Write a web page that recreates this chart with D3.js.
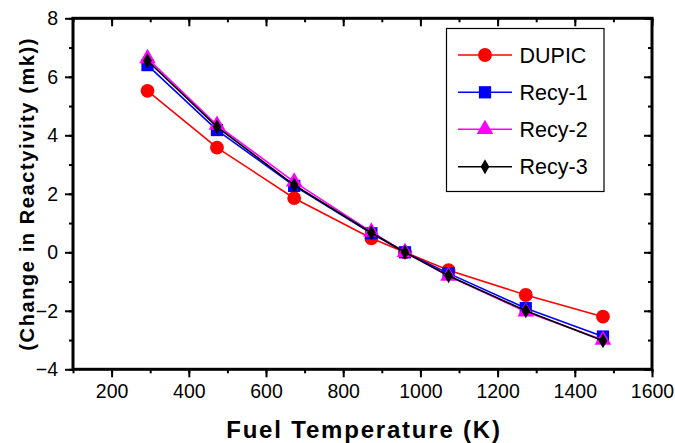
<!DOCTYPE html>
<html><head><meta charset="utf-8">
<script src="https://cdn.jsdelivr.net/npm/d3@7"></script>
<style>body{margin:0;background:#fff}svg{display:block}</style>
</head><body>
<svg id="c" width="675" height="443"></svg>
<script>
const temps = [293, 473, 673, 873, 960, 1073, 1273, 1473];
const dupic = [5.52, 3.58, 1.85, 0.48, 0.0, -0.61, -1.46, -2.20];
const recy1 = [6.40, 4.18, 2.27, 0.65, 0.0, -0.72, -1.91, -2.88];
const recy2 = [6.63, 4.35, 2.41, 0.70, 0.0, -0.81, -2.03, -3.00];
const recy3 = [6.55, 4.29, 2.30, 0.67, 0.0, -0.80, -2.00, -3.02];
const seriesNames = ["DUPIC", "Recy-1", "Recy-2", "Recy-3"];
const xTicks = [200, 400, 600, 800, 1000, 1200, 1400, 1600];
const yTicks = [-4, -2, 0, 2, 4, 6, 8];
const xTitle = "Fuel Temperature (K)";
const yTitle = "(Change in Reactyivity (mk))";

const series = [
  {name: seriesNames[0], vals: dupic, color: "#ff0000", sym: d3.symbolCircle, size: 150},
  {name: seriesNames[1], vals: recy1, color: "#0000ff", sym: d3.symbolSquare, size: 150},
  {name: seriesNames[2], vals: recy2, color: "#ff00ff", sym: d3.symbolTriangle, size: 120},
  {name: seriesNames[3], vals: recy3, color: "#000000", sym: d3.symbolDiamond, size: 65}
];

const L = 73, R = 652, T = 18.3, B = 369.3;
const x = d3.scaleLinear().domain([100, 1600]).range([L, R]);
const y = d3.scaleLinear().domain([-4, 8]).range([B, T]);
const svg = d3.select("#c");
const font = "Arial, 'Liberation Sans', sans-serif";

const xMinor = d3.range(100, 1601, 100);
const yMinor = d3.range(-4, 8.01, 1);

function styleAxis(g) {
  g.select(".domain").remove();
  g.selectAll(".tick line").attr("stroke", "#000").attr("stroke-width", 2);
  g.selectAll("text").attr("font-family", font).attr("font-size", 19.5).attr("fill", "#000");
}
svg.append("g").attr("transform", `translate(0,${B})`)
  .call(d3.axisBottom(x).tickValues(xMinor).tickSize(4).tickFormat(""))
  .call(styleAxis);
svg.append("g").attr("transform", `translate(0,${B})`)
  .call(d3.axisBottom(x).tickValues(xTicks).tickSize(8).tickPadding(7).tickFormat(d3.format("d")))
  .call(styleAxis);
svg.append("g").attr("transform", `translate(0,${T})`)
  .call(d3.axisBottom(x).tickValues(xMinor).tickSize(4).tickFormat(""))
  .call(styleAxis);
svg.append("g").attr("transform", `translate(0,${T})`)
  .call(d3.axisBottom(x).tickValues(xTicks).tickSize(8).tickFormat(""))
  .call(styleAxis);
svg.append("g").attr("transform", `translate(${L},0)`)
  .call(d3.axisLeft(y).tickValues(yMinor).tickSize(4).tickFormat(""))
  .call(styleAxis);
svg.append("g").attr("transform", `translate(${L},0)`)
  .call(d3.axisLeft(y).tickValues(yTicks).tickSize(8).tickPadding(7).tickFormat(d3.format("d")))
  .call(styleAxis);
svg.append("g").attr("transform", `translate(${R},0)`)
  .call(d3.axisLeft(y).tickValues(yMinor).tickSize(4).tickFormat(""))
  .call(styleAxis);
svg.append("g").attr("transform", `translate(${R},0)`)
  .call(d3.axisLeft(y).tickValues(yTicks).tickSize(8).tickFormat(""))
  .call(styleAxis);

svg.append("rect").attr("x", L).attr("y", T).attr("width", R - L).attr("height", B - T)
  .attr("fill", "none").attr("stroke", "#000").attr("stroke-width", 3);

const line = d3.line().x((d, i) => x(temps[i])).y(d => y(d));
series.forEach(s => {
  const g = svg.append("g");
  g.append("path").datum(s.vals).attr("d", line).attr("fill", "none")
    .attr("stroke", s.color).attr("stroke-width", 1.6);
  g.selectAll("path.m").data(s.vals).join("path").attr("class", "m")
    .attr("transform", (d, i) => `translate(${x(temps[i])},${y(d)})`)
    .attr("d", d3.symbol().type(s.sym).size(s.size)).attr("fill", s.color);
});

const lg = svg.append("g");
lg.append("rect").attr("x", 446.5).attr("y", 28.5).attr("width", 157.5).attr("height", 163)
  .attr("fill", "#fff").attr("stroke", "#000").attr("stroke-width", 1.2);
const rowY = [55, 92.3, 129.3, 166.7];
series.forEach((s, i) => {
  lg.append("line").attr("x1", 458).attr("x2", 512).attr("y1", rowY[i]).attr("y2", rowY[i])
    .attr("stroke", s.color).attr("stroke-width", 1.6);
  lg.append("path").attr("transform", `translate(485,${rowY[i]})`)
    .attr("d", d3.symbol().type(s.sym).size(s.size)).attr("fill", s.color);
  lg.append("text").attr("x", 519.5).attr("y", rowY[i]).attr("dy", "0.36em")
    .attr("font-family", font).attr("font-size", 21.5).attr("fill", "#000").text(s.name);
});

svg.append("text").attr("x", 364).attr("y", 438).attr("text-anchor", "middle")
  .attr("font-family", font).attr("font-weight", "bold").attr("font-size", 24)
  .attr("letter-spacing", 1.8).text(xTitle);
svg.append("text").attr("transform", `translate(34,${(T + B) / 2}) rotate(-90)`)
  .attr("text-anchor", "middle").attr("font-family", font).attr("font-weight", "bold")
  .attr("font-size", 20).attr("letter-spacing", 1.6).text(yTitle);
</script>
</body></html>
